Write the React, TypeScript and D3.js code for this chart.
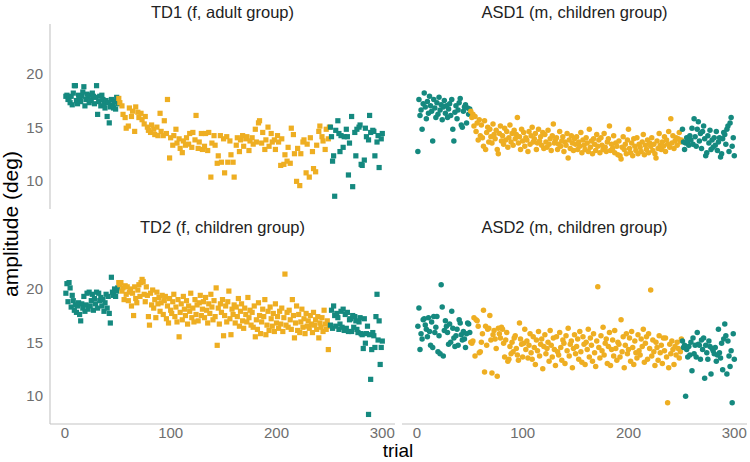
import React from "react";
import * as d3 from "d3";

const _ = null;

const xTicks = [0, 100, 200, 300];
const yTicks = [10, 15, 20];
const xDomain = [-14, 312];
const yDomain = [7.3, 24.7];
// trial phases: first and last block are baseline (teal), middle block is adaptation (orange)
const phaseEnds = [50, 250];

const titles = [
  "TD1 (f, adult group)",
  "ASD1 (m, children group)",
  "TD2 (f, children group)",
  "ASD2 (m, children group)",
];

const td1: (number | null)[] = [
  17.9, 18.0, 17.6, 17.8, 17.3, 17.9, 17.1, 18.2, 18.9, 18.9,
  17.5, 17.2, 18.0, 17.7, 17.4, 17.9, 18.3, 18.8, 17.0, 17.6,
  18.1, 17.8, 17.3, 18.0, 17.5, 18.2, 17.9, 17.2, 17.8, 18.9,
  16.2, 17.4, 17.9, 17.0, 18.0, 17.6, 17.2, 16.8, 17.5, 16.0,
  17.3, 15.4, 16.9, 17.6, 17.1, 16.8, 17.4, 16.7, 17.8, 17.2,
  17.7, 17.3, _, 17.0, 16.2, _, 15.9, 14.9, _, 15.1,
  16.8, _, 16.0, 16.5, _, 14.6, 16.9, _, 16.4, 15.9,
  _, 16.3, 15.7, _, 15.3, 16.0, _, 15.0, 14.7, _,
  14.5, 15.2, _, 14.8, 14.3, _, 15.0, 14.2, _, 16.3,
  14.6, _, 14.2, 15.6, _, 14.4, 17.6, _, 12.1, 14.0,
  _, 13.3, 14.2, _, 14.8, 13.5, _, 13.9, 13.0, _,
  12.6, 13.7, _, 13.3, 14.0, _, 13.4, 14.4, _, 13.1,
  14.5, _, 13.8, 16.1, _, 13.0, 13.6, _, 14.4, 12.9,
  _, 13.2, 14.4, _, 12.8, 14.5, _, 10.3, 13.5, _,
  14.2, 13.3, _, 11.6, 12.3, _, 14.2, 11.7, _, 13.9,
  10.7, _, 14.1, 11.7, _, 13.7, 12.4, _, 11.7, 10.3,
  _, 13.3, 14.0, _, 12.7, 13.8, _, 14.2, 13.2, _,
  13.9, 14.1, _, 12.8, 13.7, _, 14.0, 13.4, _, 14.8,
  13.6, _, 15.4, 15.6, _, 13.5, 14.5, _, 12.9, 13.8,
  _, 15.0, 13.2, _, 14.4, 13.6, _, 13.8, 12.9, _,
  14.2, 13.6, _, 11.4, 13.9, _, 11.5, 12.4, _, 11.8,
  13.1, _, 11.6, 14.9, _, 14.3, 12.5, _, 9.9, 13.0,
  _, 9.5, 12.5, _, 13.6, 13.8, _, 10.7, 13.4, _,
  10.3, 14.0, _, 12.7, 11.1, _, 10.8, 13.3, _, 14.6,
  15.1, _, 14.1, 13.7, _, 12.9, 14.8, _, 13.9, 15.0,
  15.0, 14.1, 11.8, 12.3, 8.5, 14.7, _, 15.6, 14.4, 12.7,
  14.2, _, 13.1, 14.1, _, 14.8, 14.1, 10.5, 13.5, _,
  16.0, 9.4, _, 14.5, 12.3, 14.8, _, 15.0, 15.2, 11.5,
  11.4, _, 11.9, 14.9, 14.1, _, 13.8, 16.1, 14.5, _,
  14.7, 14.6, 12.3, _, 13.6, 14.2, 11.2, _, 13.9, 14.4,
];

const asd1: number[] = [
  12.7, 17.6, 16.1, 16.6, 14.8, 17.2, 18.2, 16.9, 15.8, 17.4,
  16.3, 17.9, 17.0, 16.5, 13.7, 17.6, 16.8, 15.9, 17.3, 16.2,
  17.8, 16.6, 17.1, 15.7, 16.9, 17.5, 16.3, 17.0, 15.9, 16.7,
  17.2, 16.1, 17.6, 14.8, 13.7, 16.4, 17.0, 15.8, 16.6, 17.3,
  17.7, 15.2, 15.0, 16.5, 16.9, 17.1, 15.4, 16.8, 16.2, 16.7,
  16.5, 15.9, 16.2, 15.1, 16.0, 14.6, 15.4, 13.8, 15.7, 14.2,
  15.2, 14.0, 13.2, 15.6, 12.9, 14.5, 15.0, 13.6, 14.8, 14.1,
  13.5, 15.3, 14.3, 13.9, 14.7, 12.9, 12.5, 14.4, 15.1, 13.7,
  14.2, 13.4, 14.9, 13.8, 14.6, 13.1, 14.0, 15.2, 13.6, 14.4,
  13.3, 14.7, 13.9, 14.3, 15.9, 13.5, 14.1, 12.9, 14.8, 13.7,
  14.5, 13.2, 14.0, 13.8, 12.7, 14.6, 13.4, 14.2, 15.0, 13.6,
  13.9, 14.4, 12.9, 13.5, 14.8, 13.7, 14.1, 13.3, 14.5, 13.0,
  14.3, 13.6, 13.1, 14.7, 13.4, 13.9, 12.8, 14.2, 15.3, 13.5,
  13.8, 14.0, 12.9, 13.4, 14.6, 13.2, 13.7, 14.1, 12.7, 13.6,
  13.3, 14.4, 12.1, 13.8, 13.0, 14.2, 13.5, 12.8, 13.9, 13.4,
  14.1, 12.9, 13.6, 13.2, 14.5, 12.6, 13.8, 13.3, 12.9, 14.0,
  13.5, 12.7, 14.8, 13.1, 13.7, 12.5, 13.9, 13.4, 12.8, 14.3,
  13.2, 13.8, 12.6, 14.0, 13.3, 12.9, 14.4, 13.1, 12.7, 13.6,
  13.9, 15.1, 12.8, 13.4, 13.0, 14.2, 12.6, 13.5, 13.2, 12.4,
  13.7, 12.3, 12.0, 13.1, 14.1, 12.9, 13.4, 12.5, 13.8, 14.8,
  13.0, 12.6, 13.5, 12.3, 13.9, 13.2, 12.8, 14.0, 12.5, 13.4,
  13.1, 12.7, 13.6, 14.3, 12.4, 13.3, 12.9, 13.8, 12.6, 13.5,
  13.2, 14.0, 12.8, 13.4, 12.5, 12.1, 13.7, 13.0, 14.4, 13.3,
  12.9, 13.6, 13.2, 14.1, 12.7, 13.8, 13.4, 14.6, 13.1, 15.8,
  13.5, 14.2, 13.0, 13.7, 14.0, 13.3, 13.9, 14.5, 13.6, 13.8,
  14.8, 13.6, 12.9, 13.5, 14.0, 13.6, 13.3, 14.2, 13.8, 14.9,
  13.4, 15.8, 14.1, 13.2, 14.8, 15.5, 13.7, 14.4, 13.0, 14.6,
  15.1, 13.9, 12.3, 12.6, 14.2, 13.5, 14.7, 12.9, 13.8, 13.1,
  14.0, 13.3, 14.6, 12.8, 13.6, 14.0, 12.2, 12.5, 13.9, 14.5,
  14.3, 13.4, 14.8, 15.1, 12.7, 15.4, 15.9, 13.2, 14.0, 12.3,
];

const td2: number[] = [
  19.6, 20.5, 18.8, 20.6, 20.1, 18.3, 19.4, 18.9, 18.0, 18.5,
  17.8, 18.4, 18.7, 17.6, 17.0, 18.6, 18.2, 19.3, 17.9, 18.5,
  19.6, 18.1, 19.7, 18.4, 18.9, 19.5, 18.0, 19.1, 18.6, 19.7,
  18.2, 19.6, 18.9, 19.2, 18.4, 19.0, 17.9, 18.7, 19.5, 18.2,
  19.3, 17.7, 16.8, 21.1, 19.7, 19.4, 20.0, 19.3, 19.8, 20.1,
  20.6, 20.4, 20.6, 19.8, 20.1, 19.0, 20.3, 19.5, 20.2, 18.9,
  19.7, 20.0, 18.4, 19.6, 17.5, 20.2, 19.1, 18.7, 19.9, 20.4,
  19.3, 20.6, 20.9, 20.7, 19.5, 18.8, 20.2, 19.4, 17.4, 16.6,
  19.6, 18.5, 19.9, 18.2, 19.0, 17.3, 19.7, 18.6, 19.2, 17.9,
  18.7, 19.4, 17.6, 18.9, 19.3, 17.2, 18.4, 16.8, 19.1, 18.0,
  17.7, 18.8, 19.5, 17.4, 18.3, 16.9, 19.0, 15.5, 17.8, 18.6,
  17.1, 19.3, 18.1, 17.5, 18.9, 16.7, 18.4, 17.9, 19.6, 17.3,
  18.2, 16.9, 19.0, 17.6, 18.5, 17.0, 18.7, 19.4, 17.5, 18.1,
  18.8, 17.3, 19.2, 18.0, 16.8, 18.6, 17.7, 19.5, 18.3, 17.1,
  18.9, 17.4, 20.1, 14.7, 18.2, 16.7, 18.6, 17.8, 19.0, 15.6,
  17.5, 18.4, 16.9, 18.8, 19.8, 17.2, 15.7, 18.1, 17.6, 18.5,
  16.8, 18.3, 17.4, 19.1, 16.5, 17.9, 18.6, 17.0, 16.3, 18.2,
  17.6, 16.9, 19.2, 17.3, 18.0, 16.6, 17.8, 16.4, 18.4, 15.5,
  17.1, 16.2, 18.7, 17.5, 15.8, 16.9, 18.1, 17.4, 19.0, 15.7,
  16.6, 17.9, 16.1, 18.3, 17.2, 16.5, 17.7, 16.0, 18.6, 16.8,
  17.4, 16.3, 17.9, 16.7, 18.2, 16.0, 17.3, 21.4, 16.6, 17.8,
  16.4, 18.0, 17.1, 16.2, 19.0, 17.5, 15.4, 16.8, 18.4, 16.1,
  17.6, 15.9, 16.9, 18.1, 16.4, 17.2, 15.8, 17.7, 16.5, 17.0,
  16.3, 17.5, 16.7, 15.9, 17.8, 16.6, 17.1, 16.2, 17.4, 15.4,
  16.8, 16.4, 17.3, 16.0, 18.0, 16.7, 16.2, 17.0, 14.3, 16.5,
  16.6, 18.0, 16.3, 18.4, 17.5, 16.5, 17.7, 17.3, 16.2, 16.7,
  17.9, 16.4, 18.1, 16.1, 17.6, 16.3, 17.8, 16.0, 17.1, 17.2,
  16.0, 17.5, 16.4, 17.4, 17.0, 16.2, 15.9, 16.9, 17.3, 15.8,
  15.7, 14.4, 17.2, 14.9, 15.8, 16.5, 8.2, 15.7, 11.5, 14.3,
  15.9, 15.6, 14.5, 17.4, 19.5, 15.2, 17.0, 12.9, 14.5, 15.1,
];

const asd2: number[] = [
  16.5, 18.2, 14.3, 15.8, 15.3, 17.1, 17.2, 16.6, 16.2, 15.5,
  17.3, 16.0, 14.7, 16.9, 14.5, 17.4, 15.9, 16.4, 17.4, 14.1,
  15.6, 13.9, 20.4, 18.3, 13.7, 16.1, 17.0, 16.5, 15.9, 14.8,
  16.7, 15.0, 17.9, 16.3, 15.4, 14.6, 15.6, 16.2, 14.7, 17.1,
  16.8, 15.7, 15.2, 16.0, 15.3, 14.5, 15.8, 16.8, 16.7, 15.9,
  15.0, 14.9, 15.1, 17.3, 13.7, 17.1, 17.0, 16.5, 14.0, 14.1,
  15.0, 15.8, 18.0, 12.2, 16.5, 14.7, 16.2, 16.3, 17.5, 15.2,
  12.1, 15.7, 16.1, 15.3, 14.4, 11.8, 16.3, 15.8, 15.4, 16.4,
  16.2, 14.9, 13.6, 15.2, 15.9, 13.2, 13.4, 14.6, 13.9, 15.0,
  14.1, 15.4, 15.6, 14.4, 13.8, 13.3, 16.8, 15.3, 14.8, 13.6,
  14.9, 16.2, 14.3, 15.1, 13.5, 14.7, 15.8, 14.0, 13.4, 15.5,
  14.5, 12.9, 15.2, 14.2, 16.0, 13.7, 14.8, 15.3, 12.5, 14.6,
  15.7, 13.9, 14.4, 15.0, 13.2, 16.1, 14.7, 13.6, 15.4, 14.3,
  12.8, 15.5, 14.1, 13.8, 15.9, 14.5, 13.3, 15.2, 14.9, 13.0,
  15.6, 14.2, 16.3, 13.7, 14.8, 15.1, 12.6, 14.4, 15.7, 13.9,
  14.6, 15.3, 13.4, 16.0, 14.1, 13.1, 15.5, 14.8, 12.9, 15.0,
  14.3, 16.2, 13.6, 15.4, 14.7, 13.2, 15.8, 14.0, 12.7, 15.1,
  20.2, 14.5, 13.5, 15.6, 14.2, 16.4, 13.8, 14.9, 15.3, 13.0,
  14.6, 15.9, 12.8, 14.3, 15.2, 13.7, 16.1, 14.4, 13.3, 15.0,
  14.8, 13.6, 17.1, 14.1, 15.5, 12.6, 14.7, 15.8, 13.9, 14.3,
  15.4, 13.2, 16.0, 14.5, 12.9, 15.1, 14.0, 13.5, 15.7, 14.2,
  13.8, 15.3, 14.6, 16.2, 13.1, 14.9, 15.5, 13.4, 15.8, 14.4,
  19.9, 13.7, 15.2, 14.1, 12.8, 15.0, 14.5, 13.3, 15.6, 14.0,
  14.7, 13.0, 15.4, 14.2, 15.4, 13.6, 9.3, 12.6, 14.8, 13.9,
  15.1, 14.3, 12.9, 14.6, 13.8, 15.0, 14.4, 13.5, 14.1, 15.3,
  15.1, 14.5, 14.7, 9.9, 14.3, 13.6, 14.6, 13.8, 15.0, 12.3,
  15.4, 13.9, 14.7, 13.6, 15.9, 14.8, 14.7, 13.4, 15.2, 14.3,
  15.4, 11.6, 14.7, 14.0, 13.4, 15.1, 14.6, 12.0, 14.4, 14.2,
  13.9, 14.5, 13.2, 13.8, 16.2, 14.0, 13.5, 14.9, 12.4, 15.3,
  16.7, 15.6, 12.0, 15.1, 13.7, 12.7, 14.2, 9.3, 15.8, 13.4,
];

const series = [td1, asd1, td2, asd2];
const shapes = ["square", "circle", "square", "circle"];

const TEAL = "#15897f";
const ORANGE = "#eeae22";
const W = 750;
const H = 462;
const panelLefts = [50, 402];
const panelTops = [24, 239];
const PW = 345;
const PH = 185;
const FONT = "'Liberation Sans', Arial, Helvetica, sans-serif";

function colorFor(trial: number) {
  return trial <= phaseEnds[0] || trial > phaseEnds[1] ? TEAL : ORANGE;
}

export default function App() {
  const panels = series.map((vals, i) => {
    const col = i % 2;
    const row = Math.floor(i / 2);
    const left = panelLefts[col];
    const top = panelTops[row];
    const x = d3.scaleLinear().domain(xDomain).range([left, left + PW]);
    const y = d3.scaleLinear().domain(yDomain).range([top + PH, top]);
    return { vals, col, row, left, top, x, y, shape: shapes[i], title: titles[i] };
  });

  return (
    <svg width={W} height={H} style={{ position: "absolute", left: 0, top: 0, background: "#fff" }} fontFamily={FONT}>
      <rect x={0} y={0} width={W} height={H} fill="#fff" />
      {panels.map((p, i) => (
        <g key={i}>
          <text x={p.left + PW / 2} y={p.top - 6.5} textAnchor="middle" fontSize={16.5} fill="#222">
            {p.title}
          </text>
          {p.col === 0 && (
            <g>
              <line x1={p.left} x2={p.left} y1={p.top} y2={p.top + PH} stroke="#c4c4c4" strokeWidth={1.1} />
              {yTicks.map((t) => (
                <text key={t} x={p.left - 7} y={p.y(t)} dy="0.36em" textAnchor="end" fontSize={15} fill="#6e6e6e">
                  {t}
                </text>
              ))}
            </g>
          )}
          {p.row === 1 && (
            <g>
              <line x1={p.left} x2={p.left + PW} y1={p.top + PH} y2={p.top + PH} stroke="#c4c4c4" strokeWidth={1.1} />
              {xTicks.map((t) => (
                <text key={t} x={p.x(t)} y={p.top + PH + 13.5} textAnchor="middle" fontSize={15} fill="#6e6e6e">
                  {t}
                </text>
              ))}
            </g>
          )}
          {p.vals.map((v, k) => {
            if (v === null || v === undefined) return null;
            const trial = k + 1;
            const cx = p.x(trial);
            const cy = p.y(v);
            const c = colorFor(trial);
            return p.shape === "square" ? (
              <rect key={k} x={cx - 2.6} y={cy - 2.6} width={5.2} height={5.2} fill={c} />
            ) : (
              <circle key={k} cx={cx} cy={cy} r={2.75} fill={c} />
            );
          })}
        </g>
      ))}
      <text x={398} y={457} textAnchor="middle" fontSize={19} fill="#000">
        trial
      </text>
      <text transform={`translate(18,224) rotate(-90)`} textAnchor="middle" fontSize={21} fill="#000">
        amplitude (deg)
      </text>
    </svg>
  );
}
